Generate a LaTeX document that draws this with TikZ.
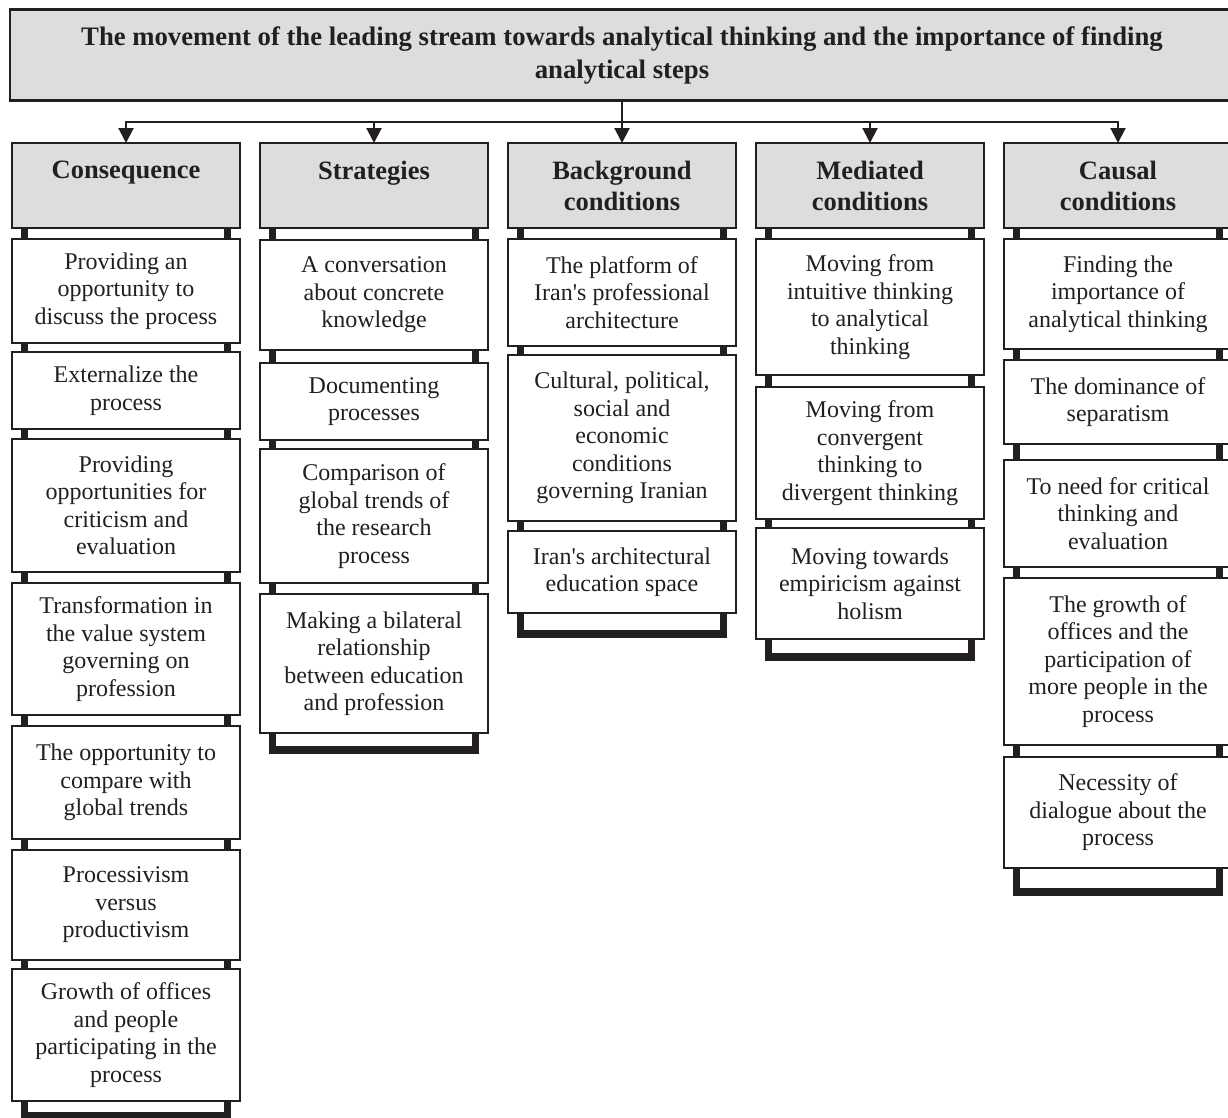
\documentclass[tikz,border=0pt]{standalone}
\usepackage{fontspec}
\setmainfont{Liberation Serif}
\usetikzlibrary{arrows.meta}
\definecolor{hgray}{HTML}{DCDDDF}
\definecolor{ink}{HTML}{231F20}
\newcommand{\bodyfnt}{\fontsize{24}{27.5}\selectfont}
\newcommand{\hdrfnt}{\fontsize{26.5}{31}\selectfont\bfseries}
\newcommand{\ttlfnt}{\fontsize{26.7}{33}\selectfont\bfseries}
\tikzset{
  ttlbox/.style={draw=ink, line width=2.4pt, fill=hgray, inner sep=0pt, outer sep=0pt,
    align=center, font=\ttlfnt, text=ink},
  hdrbox/.style={draw=ink, line width=2.4pt, fill=hgray, inner sep=0pt, outer sep=0pt,
    minimum width=228pt, minimum height=85pt, align=center, font=\hdrfnt, text=ink},
  itembox/.style={draw=ink, line width=2.4pt, fill=white, inner sep=0pt, outer sep=0pt,
    minimum width=228pt, align=center, font=\bodyfnt, text=ink},
  colbar/.style={draw=ink, line width=7.5pt},
  link/.style={draw=ink, line width=2.2pt},
  linkarrow/.style={link, -{Triangle[width=15pt,length=15pt]}}
}
\begin{document}
\begin{tikzpicture}[x=1pt,y=-1pt]
\useasboundingbox (0,0) rectangle (1228,1117);

% column frames (visible as bars between boxes and U at the bottom)
\draw[colbar] (24.5,186) rectangle (227.5,1116);
\draw[colbar] (272.5,186) rectangle (475.5,750);
\draw[colbar] (520.5,186) rectangle (723.5,634);
\draw[colbar] (768.5,186) rectangle (971.5,657);
\draw[colbar] (1016.5,186) rectangle (1219.5,892);

% title
\node[ttlbox, minimum width=1224pt, minimum height=91pt] (title) at (622,55)
  {The movement of the leading stream towards analytical thinking and the importance of finding\\analytical steps};

% headers
\node[hdrbox] (h1) at (126,185.5) {Consequence\\\phantom{conditions}};
\node[hdrbox] (h2) at (374,185.5) {Strategies\\\phantom{conditions}};
\node[hdrbox] (h3) at (622,185.5) {Background\\conditions};
\node[hdrbox] (h4) at (870,185.5) {Mediated\\conditions};
\node[hdrbox] (h5) at (1118,185.5) {Causal\\conditions};

% column 1
\node[itembox, minimum height=104pt] (a1) at (126,291) {Providing an\\opportunity to\\discuss the process};
\node[itembox, minimum height=77pt] (a2) at (126,390.5) {Externalize the\\process};
\node[itembox, minimum height=133pt] (a3) at (126,505.5) {Providing\\opportunities for\\criticism and\\evaluation};
\node[itembox, minimum height=132pt] (a4) at (126,649) {Transformation in\\the value system\\governing on\\profession};
\node[itembox, minimum height=113pt] (a5) at (126,782.5) {The opportunity to\\compare with\\global trends};
\node[itembox, minimum height=110pt] (a6) at (126,905) {Processivism\\versus\\productivism};
\node[itembox, minimum height=132pt] (a7) at (126,1035) {Growth of offices\\and people\\participating in the\\process};

% column 2
\node[itembox, minimum height=110pt] (b1) at (374,295) {A conversation\\about concrete\\knowledge};
\node[itembox, minimum height=77pt] (b2) at (374,401.5) {Documenting\\processes};
\node[itembox, minimum height=134pt] (b3) at (374,516) {Comparison of\\global trends of\\the research\\process};
\node[itembox, minimum height=139pt] (b4) at (374,663.5) {Making a bilateral\\relationship\\between education\\and profession};

% column 3
\node[itembox, minimum height=107pt] (c1) at (622,292.5) {The platform of\\Iran\textquotesingle s professional\\architecture};
\node[itembox, minimum height=166pt] (c2) at (622,438) {Cultural, political,\\social and\\economic\\conditions\\governing Iranian};
\node[itembox, minimum height=82pt] (c3) at (622,572) {Iran\textquotesingle s architectural\\education space};

% column 4
\node[itembox, minimum height=136pt] (d1) at (870,307) {Moving from\\intuitive thinking\\to analytical\\thinking};
\node[itembox, minimum height=132pt] (d2) at (870,453) {Moving from\\convergent\\thinking to\\divergent thinking};
\node[itembox, minimum height=111pt] (d3) at (870,583.5) {Moving towards\\empiricism against\\holism};

% column 5
\node[itembox, minimum height=110pt] (e1) at (1118,294) {Finding the\\importance of\\analytical thinking};
\node[itembox, minimum height=84pt] (e2) at (1118,402) {The dominance of\\separatism};
\node[itembox, minimum height=107pt] (e3) at (1118,513.5) {To need for critical\\thinking and\\evaluation};
\node[itembox, minimum height=167pt] (e4) at (1118,661.5) {The growth of\\offices and the\\participation of\\more people in the\\process};
\node[itembox, minimum height=111pt] (e5) at (1118,812.5) {Necessity of\\dialogue about the\\process};

% connectors
\coordinate (hub) at (622,122);
\draw[link] (title.south) -- (hub);
\draw[linkarrow] (hub) -| (h1.north);
\draw[linkarrow] (hub) -| (h2.north);
\draw[linkarrow] (hub) -- (h3.north);
\draw[linkarrow] (hub) -| (h4.north);
\draw[linkarrow] (hub) -| (h5.north);
\end{tikzpicture}
\end{document}
